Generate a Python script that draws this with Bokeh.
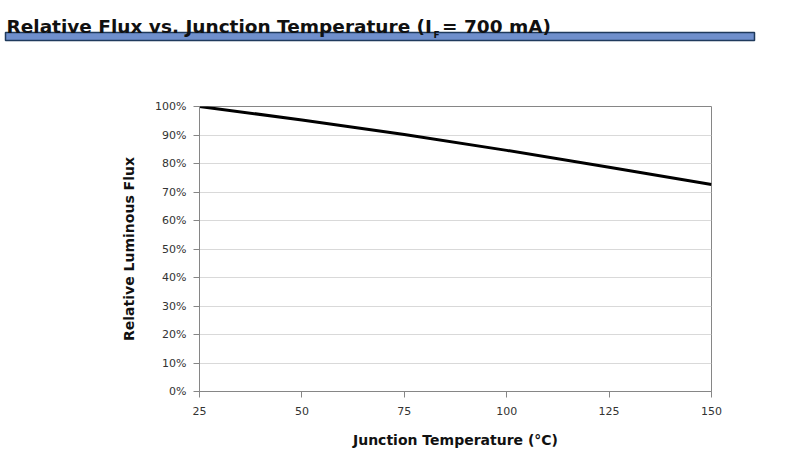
from bokeh.core.properties import value
from bokeh.embed import file_html
from bokeh.layouts import column
from bokeh.models import ColumnDataSource, FixedTicker, NumeralTickFormatter, Range1d
from bokeh.plotting import figure
from bokeh.resources import INLINE

# Relative flux
temperature_c = [25, 50, 75, 100, 125, 150]
relative_flux = [1.000, 0.953, 0.902, 0.846, 0.787, 0.726]

x_ticks = [25, 50, 75, 100, 125, 150]
y_ticks = [0.0, 0.1, 0.2, 0.3, 0.4, 0.5, 0.6, 0.7, 0.8, 0.9, 1.0]

title_main = "Relative Flux vs. Junction Temperature (I"
title_sub = "F"
title_rest = " = 700 mA)"

FONT = "DejaVu Sans"
AXIS_GRAY = "#868686"

# Header: title text plus the blue rule underneath (pixel coordinates)
header = figure(
    width=775, height=44,
    x_range=Range1d(0, 775), y_range=Range1d(44, 0),
    output_backend="svg", toolbar_location=None,
    min_border=0, outline_line_color=None,
)
header.frame_align = False
header.axis.visible = False
header.grid.visible = False

header.quad(left=[5], right=[754], top=[32], bottom=[40],
            fill_color="#6f8fcc", line_color="#1f3a5c", line_width=1.5)
header.text(x=[6], y=[26], text=[title_main], text_font=value(FONT),
            text_font_style="bold", text_font_size="18.5px", text_color="#111111",
            text_baseline="alphabetic", text_align="left")
header.text(x=[433], y=[34], text=[title_sub], text_font=value(FONT),
            text_font_style="bold", text_font_size="9px", text_color="#111111",
            text_baseline="alphabetic", text_align="left")
header.text(x=[557], y=[26], text=[title_rest], text_font=value(FONT),
            text_font_style="bold", text_font_size="18.5px", text_color="#111111",
            text_baseline="alphabetic", text_align="right")

# Chart
source = ColumnDataSource(data=dict(t=temperature_c, flux=relative_flux))

p = figure(
    width=775, height=407,
    x_range=Range1d(25, 150), y_range=Range1d(0, 1),
    output_backend="svg", toolbar_location=None,
    min_border_left=199, min_border_right=64,
    min_border_top=62, min_border_bottom=60,
    outline_line_color=AXIS_GRAY, outline_line_width=1,
)
p.frame_align = False

p.line("t", "flux", source=source, line_color="black", line_width=3)

p.xaxis.ticker = FixedTicker(ticks=x_ticks)
p.yaxis.ticker = FixedTicker(ticks=y_ticks)
p.yaxis.formatter = NumeralTickFormatter(format="0%")

for ax in (p.xaxis, p.yaxis):
    ax.axis_line_color = AXIS_GRAY
    ax.major_tick_line_color = AXIS_GRAY
    ax.major_tick_in = 0
    ax.major_tick_out = 6
    ax.minor_tick_line_color = None
    ax.major_label_text_font = FONT
    ax.major_label_text_font_size = "11px"
    ax.major_label_text_color = "#333333"
    ax.axis_label_text_font = FONT
    ax.axis_label_text_font_style = "bold"
    ax.axis_label_text_font_size = "14px"
    ax.axis_label_text_color = "#111111"

p.xaxis.axis_label = "Junction Temperature (°C)"
p.xaxis.major_label_standoff = 9
p.xaxis.axis_label_standoff = 14
p.yaxis.axis_label = "Relative Luminous Flux"
p.yaxis.major_label_standoff = 7
p.yaxis.axis_label_standoff = 15

p.xgrid.grid_line_color = None
p.ygrid.grid_line_color = "#d9d9d9"
p.ygrid.grid_line_width = 1

layout = column(header, p, spacing=0)

open("out.html", "w").write(file_html(layout, INLINE))
